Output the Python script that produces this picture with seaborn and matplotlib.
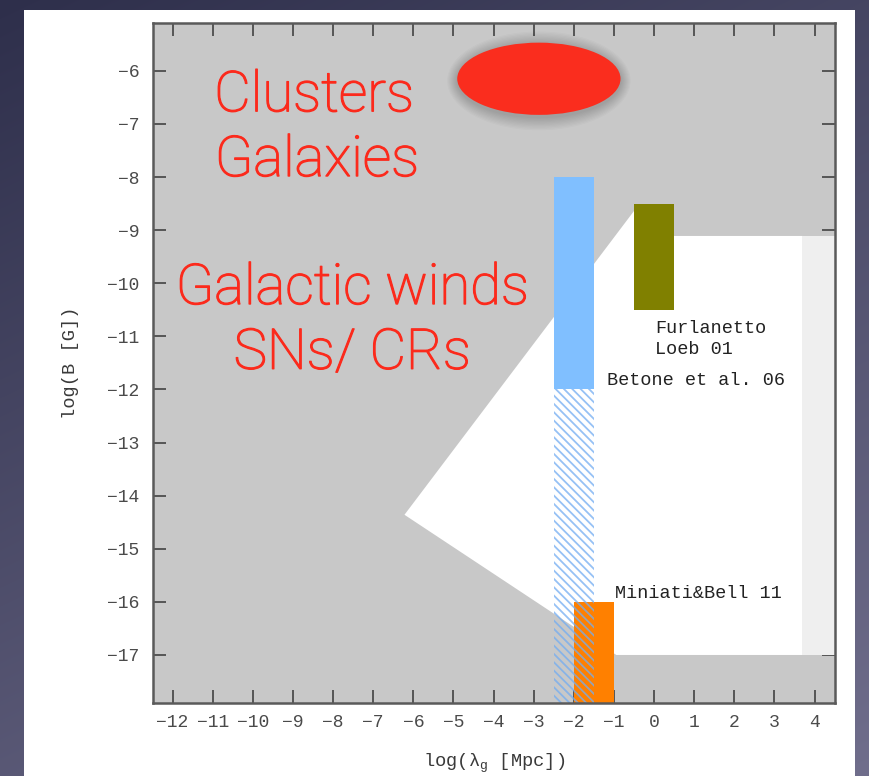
import numpy as np
import matplotlib
matplotlib.use("Agg")
import matplotlib.pyplot as plt
import matplotlib.patheffects as pe
from matplotlib.patches import Polygon, Rectangle, Ellipse
import seaborn as sns

# ---- data -------------------------------------------------------------
# constraint boxes: x range in log(lambda_B [Mpc]), y range in log(B [G])
box_names = ["Betone et al. 06", "Furlanetto\nLoeb 01", "Miniati&Bell 11"]
box_x_lo = [-2.5, -0.5, -2.0]
box_x_hi = [-1.5, 0.5, -1.0]
box_b_lo = [-12.0, -10.5, -17.91]
box_b_hi = [-8.0, -8.5, -16.0]
box_colors = ["#80bfff", "#808000", "#ff8000"]

# lower (hatched) extension of the Betone et al. constraint
ext_b_lo = -17.91
ext_b_hi = -12.0

# allowed region (white) outline
allowed_x = [-6.22, -0.5, 0.3, 0.3, 3.7, 3.7, -0.94]
allowed_b = [-14.36, -8.64, -8.64, -9.11, -9.11, -17.0, -17.0]
# light band at large scales
band_x = [3.7, 4.51]
band_b = [-17.0, -9.11]

# cluster / galaxy field ellipse
cluster_center = (-2.87, -6.15)
cluster_size = (4.07, 1.36)

x_ticks = list(range(-12, 5))
y_ticks = list(range(-17, -5))

# ---- style ------------------------------------------------------------
sns.set_theme(style="ticks")
plt.rcParams["font.family"] = ["Liberation Mono", "DejaVu Sans"]
plt.rcParams["mathtext.fontset"] = "custom"
plt.rcParams["mathtext.rm"] = "Liberation Mono"
plt.rcParams["mathtext.it"] = "Liberation Mono"
plt.rcParams["hatch.linewidth"] = 1.3

W, H = 869, 776
fig = plt.figure(figsize=(W / 100, H / 100), dpi=100)

# slide backdrop with white card
bg = fig.add_axes([0, 0, 1, 1], zorder=-1)
yy, xx = np.mgrid[0:H, 0:W]
t = 0.65 * (yy / H) + 0.35 * (xx / W)
c0 = np.array([0x2e, 0x2f, 0x4b]) / 255
c1 = np.array([0x70, 0x6e, 0x8c]) / 255
grad = c0[None, None, :] * (1 - t[..., None]) + c1[None, None, :] * t[..., None]
bg.imshow(grad, extent=(0, W, H, 0), aspect="auto", interpolation="bilinear")
bg.add_patch(Rectangle((24, 10), 831, 770, facecolor="white", edgecolor="none"))
bg.set_xlim(0, W)
bg.set_ylim(H, 0)
bg.axis("off")

ax = fig.add_axes([153.3 / W, (H - 703.3) / H, (835 - 153.3) / W, (703.3 - 23) / H])
ax.set_facecolor("#c8c8c8")
ax.set_xlim(-12.48, 4.51)
ax.set_ylim(-17.91, -5.1)

# allowed parameter space
ax.add_patch(Polygon(np.column_stack([allowed_x, allowed_b]), closed=True,
                     facecolor="white", edgecolor="none", zorder=1))
ax.add_patch(Rectangle((band_x[0], band_b[0]), band_x[1] - band_x[0],
                       band_b[1] - band_b[0], facecolor="#efefef",
                       edgecolor="none", zorder=1))

# constraint boxes
for lo, hi, b0, b1, col in zip(box_x_lo, box_x_hi, box_b_lo, box_b_hi, box_colors):
    ax.bar((lo + hi) / 2, b1 - b0, bottom=b0, width=hi - lo, color=col,
           edgecolor="none", linewidth=0, zorder=2)

# hatched extension drawn over the orange box
ax.bar((box_x_lo[0] + box_x_hi[0]) / 2, ext_b_hi - ext_b_lo, bottom=ext_b_lo,
       width=box_x_hi[0] - box_x_lo[0], facecolor="none",
       edgecolor=(0.45, 0.68, 0.95, 0.75), hatch="\\\\\\\\", linewidth=0, zorder=3)

# cluster ellipse with a soft shadow
for k in range(10, 0, -1):
    ax.add_patch(Ellipse((cluster_center[0], cluster_center[1] - 0.04),
                         cluster_size[0] + 0.05 * k, cluster_size[1] + 0.05 * k,
                         facecolor="black", alpha=0.02, edgecolor="none", zorder=4))
ax.add_patch(Ellipse(cluster_center, cluster_size[0], cluster_size[1],
                     facecolor="#fa2d1e", edgecolor="none", zorder=5))

# box labels
lab_kw = dict(fontsize=13.3, color="#222222", ha="left", va="baseline", zorder=6)
ax.text(0.03, -10.93, "Furlanetto", **lab_kw)
ax.text(0.03, -11.33, "Loeb 01", **lab_kw)
ax.text(-1.17, -11.91, box_names[0], **lab_kw)
ax.text(-0.97, -15.92, box_names[2], **lab_kw)

# source labels
red = "#fc2a1c"
red_kw = dict(fontsize=40.5, color=red, ha="center", va="center",
              family=["Roboto", "DejaVu Sans"], fontweight="light", zorder=6,
              path_effects=[pe.withStroke(linewidth=0.9, foreground=red)])
ax.text(-8.47, -6.47, "Clusters", **red_kw)
ax.text(-8.40, -7.69, "Galaxies", **red_kw)
ax.text(-7.52, -10.10, "Galactic winds", **red_kw)
ax.text(-7.52, -11.32, "SNs/ CRs", **red_kw)

# axes frame and ticks
ax.set_xticks(x_ticks)
ax.set_yticks(y_ticks)
ax.set_xticklabels([f"\u2212{-v}" if v < 0 else str(v) for v in x_ticks])
ax.set_yticklabels([f"\u2212{-v}" for v in y_ticks])
ax.tick_params(direction="in", length=9.5, width=1.4, color="#555555",
               labelcolor="#4a4a4a", labelsize=13, top=True, right=True)
ax.tick_params(axis="x", pad=8)
ax.tick_params(axis="y", pad=10)
for sp in ax.spines.values():
    sp.set_color("#5a5a5a")
    sp.set_linewidth(1.8)
    sp.set_zorder(7)
ax.grid(False)

ax.set_xlabel(r"log($\lambda_{\rm g}$ [Mpc])", fontsize=13.5, color="#3a3a3a", labelpad=15)
ax.set_ylabel("log(B [G])", fontsize=13.5, color="#3a3a3a", labelpad=20)

fig.savefig("out.png", dpi=100)
